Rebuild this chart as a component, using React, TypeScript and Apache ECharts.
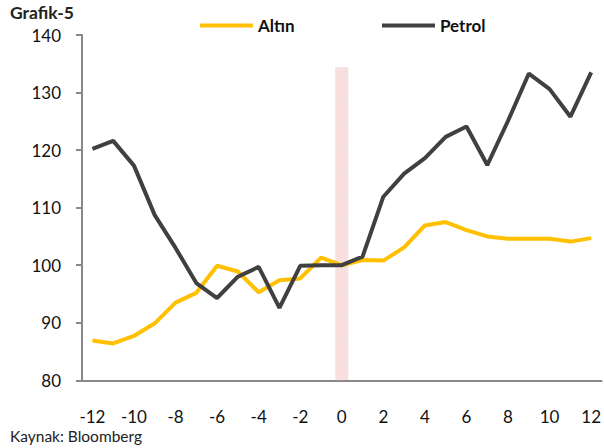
import React, { useEffect, useRef } from "react";
import * as echarts from "echarts";

const categories = ["-12","-11","-10","-9","-8","-7","-6","-5","-4","-3","-2","-1","0","1","2","3","4","5","6","7","8","9","10","11","12"];
const altin = [86.9, 86.4, 87.7, 89.9, 93.5, 95.2, 99.9, 98.9, 95.3, 97.4, 97.7, 101.3, 100.0, 100.9, 100.8, 103.1, 106.9, 107.5, 106.1, 105.0, 104.6, 104.6, 104.6, 104.1, 104.7];
const petrol = [120.2, 121.6, 117.3, 108.7, 103.0, 96.9, 94.3, 98.0, 99.7, 92.6, 99.9, 100.0, 100.0, 101.5, 111.9, 115.9, 118.6, 122.3, 124.1, 117.4, 125.1, 133.3, 130.6, 125.8, 133.5];
const marker = categories.map((c) => (c === "0" ? 134.4 : null));

const FONT = "Lato, 'Open Sans', sans-serif";

export default function App() {
  const ref = useRef<HTMLDivElement>(null);
  useEffect(() => {
    if (!ref.current) return;
    const chart = echarts.init(ref.current, undefined, { renderer: "svg" });
    chart.setOption({
      animation: false,
      backgroundColor: "#ffffff",
      textStyle: { fontFamily: FONT },
      title: [
        { text: "Grafik-5", left: 10, top: 3, padding: 0, textStyle: { fontFamily: FONT, fontWeight: "bold", fontSize: 17.5, lineHeight: 18, color: "#222" } },
        { text: "Kaynak: Bloomberg", left: 10, top: 428, padding: 0, textStyle: { fontFamily: FONT, fontWeight: "normal", fontSize: 15.5, lineHeight: 16, color: "#222" } },
      ],
      legend: [
        {
          data: ["Altın"], left: 195, top: 12, icon: "rect", itemWidth: 53, itemHeight: 4,
          textStyle: { fontFamily: FONT, fontWeight: "bold", fontSize: 17, color: "#111" },
        },
        {
          data: ["Petrol"], left: 377, top: 12, icon: "rect", itemWidth: 53, itemHeight: 4,
          textStyle: { fontFamily: FONT, fontWeight: "bold", fontSize: 17, color: "#111" },
        },
      ],
      grid: { left: 82, right: 0, top: 35, bottom: 67.7, containLabel: false },
      xAxis: {
        type: "category",
        data: categories,
        boundaryGap: true,
        axisLine: { lineStyle: { color: "#888", width: 2 } },
        axisTick: { interval: 0, length: 6, lineStyle: { color: "#888", width: 2 } },
        axisLabel: { interval: 1, margin: 28, fontSize: 17, color: "#111", fontFamily: FONT },
        splitLine: { show: false },
      },
      yAxis: {
        type: "value",
        min: 80,
        max: 140,
        interval: 10,
        axisLine: { show: true, lineStyle: { color: "#888", width: 2 } },
        axisTick: { show: true, length: 6, lineStyle: { color: "#888", width: 2 } },
        axisLabel: { margin: 21, fontSize: 17, color: "#111", fontFamily: FONT },
        splitLine: { show: false },
      },
      series: [
        {
          name: "marker",
          type: "bar",
          data: marker,
          barWidth: 13,
          clip: true,
          z: 1,
          itemStyle: {
            color: "rgba(238,180,180,0.45)",
            decal: { symbol: "rect", symbolSize: 0.6, dashArrayX: [2, 1], dashArrayY: [2, 1], color: "rgba(255,255,255,0.35)" },
          },
          silent: true,
        },
        {
          name: "Altın",
          type: "line",
          data: altin,
          showSymbol: false,
          symbol: "none",
          z: 3,
          lineStyle: { color: "#FFC000", width: 4 },
          itemStyle: { color: "#FFC000" },
        },
        {
          name: "Petrol",
          type: "line",
          data: petrol,
          showSymbol: false,
          symbol: "none",
          z: 4,
          lineStyle: { color: "#404040", width: 4 },
          itemStyle: { color: "#404040" },
        },
      ],
    });
    return () => chart.dispose();
  }, []);
  return <div ref={ref} style={{ position: "fixed", left: 0, top: 0, width: 604, height: 448 }} />;
}
